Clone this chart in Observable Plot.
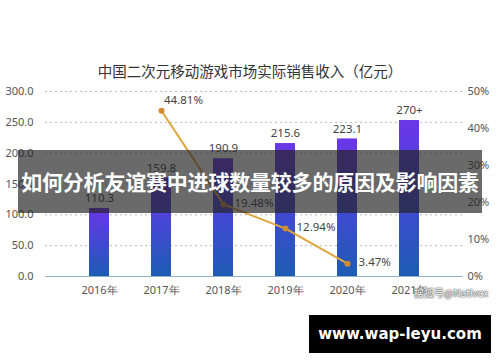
<!DOCTYPE html>
<html><head><meta charset="utf-8">
<script src="https://cdn.jsdelivr.net/npm/d3@7"></script>
<script src="https://cdn.jsdelivr.net/npm/@observablehq/plot@0.6"></script>
<style>
body{margin:0;background:#fff;}
#wrap{position:relative;width:500px;height:362px;overflow:hidden;font-family:"Noto Sans CJK SC","Noto Sans",sans-serif;}
#title{position:absolute;left:0;width:500px;top:60px;text-align:center;font-size:14.5px;color:#333;}
#band{position:absolute;left:18px;top:150px;width:464px;height:63px;background:rgba(35,35,35,0.68);color:#fff;font-weight:bold;font-size:21px;line-height:63px;text-align:center;white-space:nowrap;letter-spacing:-0.2px;}
#wm{position:absolute;left:414px;top:285px;font-size:10px;color:#fff;text-shadow:0 0 2px #333,0 0 1px #333;white-space:nowrap;}
#url{position:absolute;left:309px;top:315px;width:182px;height:38px;background:#000;color:#fff;font-family:"DejaVu Sans",sans-serif;font-weight:bold;font-size:15px;line-height:38px;text-align:center;}
svg{position:absolute;left:0;top:0;}
</style></head>
<body><div id="wrap"></div>
<script>
const years = ["2016年","2017年","2018年","2019年","2020年","2021年"];
const revenue = [110.3, 159.8, 190.9, 215.6, 223.1, 253];
const revenueLabels = ["110.3","159.8","190.9","215.6","223.1","270+"];
const growthYears = ["2017年","2018年","2019年","2020年"];
const growthPct = [44.81, 19.48, 12.94, 3.47];
const leftTicks = [0, 50, 100, 150, 200, 250, 300];
const rightTicks = [0, 10, 20, 30, 40, 50];
const pctToY = 6; // 50% on the right axis aligns with 300 on the left

const bars = years.map((y,i)=>({year:y, value:revenue[i], label:revenueLabels[i]}));
const growth = growthYears.map((y,i)=>({year:y, pct:growthPct[i]}));

const chart = Plot.plot({
  width:500, height:362,
  marginLeft:45, marginRight:38, marginTop:91, marginBottom:86,
  style:{fontFamily:"'Noto Sans', sans-serif", fontSize:"11px", color:"#555", background:"transparent"},
  x:{domain:years, padding:0.68, label:null},
  y:{domain:[0,300], label:null},
  marks:[
    Plot.gridY(leftTicks.filter(d=>d>0), {stroke:"#bbb", strokeOpacity:1, strokeDasharray:"2,3"}),
    Plot.axisY(leftTicks, {tickSize:0, tickPadding:12, tickFormat:d=>d.toFixed(1), fill:"#555", label:null}),
    Plot.axisY(rightTicks.map(d=>d*pctToY), {anchor:"right", tickSize:0, tickPadding:5, tickFormat:d=>Math.round(d/pctToY)+"%", fill:"#555", label:null}),
    Plot.axisX({tickSize:0, tickPadding:10, fill:"#555", label:null}),
    Plot.barY(bars, {x:"year", y:"value", fill:"url(#barGrad)"}),
    Plot.ruleY([0], {stroke:"#8fb2c9", strokeWidth:1.2}),
    Plot.text(bars, {x:"year", y:"value", text:"label", dy:-10, fill:"#444", fontSize:11.5}),
    Plot.line(growth, {x:"year", y:d=>d.pct*pctToY, stroke:"#e0a53c", strokeWidth:2}),
    Plot.dot(growth, {x:"year", y:d=>d.pct*pctToY, r:3, fill:"#d08c30"}),
    Plot.text(growth.slice(0,1), {x:"year", y:d=>d.pct*pctToY, text:d=>d.pct.toFixed(2)+"%", dx:22, dy:-10, fill:"#444", fontSize:11.5}),
    Plot.text(growth.slice(1), {x:"year", y:d=>d.pct*pctToY, text:d=>d.pct.toFixed(2)+"%", dx:11, dy:-1, textAnchor:"start", fill:"#444", fontSize:11.5})
  ]
});
const ns="http://www.w3.org/2000/svg";
const defs=document.createElementNS(ns,"defs");
const g=document.createElementNS(ns,"linearGradient");
g.setAttribute("id","barGrad");g.setAttribute("x1","0");g.setAttribute("y1","0");g.setAttribute("x2","0");g.setAttribute("y2","1");
[["0%","#6b36e8"],["55%","#3f4ad0"],["100%","#1d5cb3"]].forEach(([o,c])=>{const s=document.createElementNS(ns,"stop");s.setAttribute("offset",o);s.setAttribute("stop-color",c);g.appendChild(s);});
defs.appendChild(g);chart.insertBefore(defs,chart.firstChild);

const wrap=document.getElementById("wrap");
wrap.appendChild(chart);
const t=document.createElement("div");t.id="title";t.textContent="中国二次元移动游戏市场实际销售收入（亿元）";wrap.appendChild(t);
const b=document.createElement("div");b.id="band";b.textContent="如何分析友谊赛中进球数量较多的原因及影响因素";wrap.appendChild(b);
const w=document.createElement("div");w.id="wm";w.textContent="搜狐号@Nativex";wrap.appendChild(w);
const u=document.createElement("div");u.id="url";u.textContent="www.wap-leyu.com";wrap.appendChild(u);
</script></body></html>
